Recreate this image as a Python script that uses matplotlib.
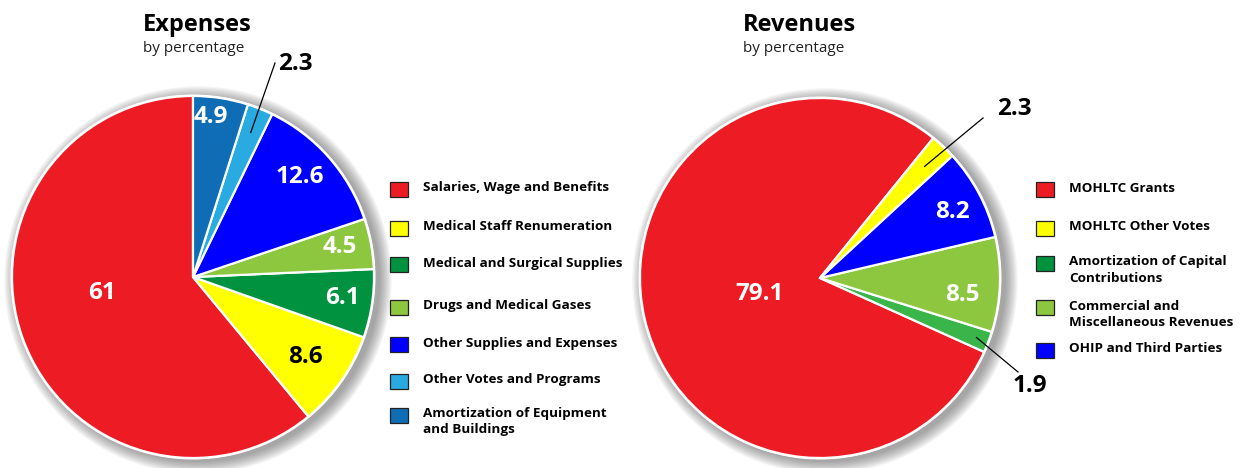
import numpy as np
import matplotlib.pyplot as plt
from matplotlib.patches import Circle, Rectangle

plt.rcParams['font.family'] = ['Open Sans', 'DejaVu Sans']

W, H = 1243, 468

# Expenses
exp_labels = ['Salaries, Wage and Benefits', 'Medical Staff Renumeration',
              'Medical and Surgical Supplies', 'Drugs and Medical Gases',
              'Other Supplies and Expenses', 'Other Votes and Programs',
              'Amortization of Equipment\nand Buildings']
exp_values = [61, 8.6, 6.1, 4.5, 12.6, 2.3, 4.9]
exp_colors = ['#ed1c24', '#ffff00', '#00923f', '#8dc63f', '#0000ff', '#29abe2', '#0f6db5']

# Revenues (pie order)
rev_values = [79.1, 1.9, 8.5, 8.2, 2.3]
rev_colors = ['#ed1c24', '#3ab54a', '#8dc63f', '#0000ff', '#ffff00']
rev_legend = ['MOHLTC Grants', 'MOHLTC Other Votes',
              'Amortization of Capital\nContributions',
              'Commercial and\nMiscellaneous Revenues', 'OHIP and Third Parties']
rev_legend_colors = ['#ed1c24', '#ffff00', '#00923f', '#8dc63f', '#0000ff']

fig = plt.figure(figsize=(W / 100, H / 100), dpi=100)
ax = fig.add_axes([0, 0, 1, 1])

NUM_SIZE = 17.5


def py(y):
    # pixel row -> data y
    return H - y


def mid_angles(values, start):
    v = np.array(values, dtype=float)
    c = np.concatenate([[0], np.cumsum(v)]) / v.sum() * 360
    return start + (c[:-1] + c[1:]) / 2


def draw_pie(values, colors, center, radius, start):
    cx, cy = center
    # soft drop shadow
    for i in range(10):
        ax.add_patch(Circle((cx + 5, cy - 3), radius + 1 + i * 1.3,
                            color='#444444', alpha=0.06, lw=0, zorder=0))
    ax.add_patch(Circle((cx, cy), radius + 1.5, color='white', lw=0, zorder=0.5))
    ax.pie(values, colors=colors, startangle=start, counterclock=True,
           center=center, radius=radius, frame=True,
           wedgeprops=dict(edgecolor='white', linewidth=1.6))


def leader(center, radius, angle, frac, end):
    a = np.deg2rad(angle)
    x0 = center[0] + np.cos(a) * radius * frac
    y0 = center[1] + np.sin(a) * radius * frac
    ax.plot([x0, end[0]], [y0, end[1]], color='black', lw=0.9, zorder=5)


# left pie
c1, r1, s1 = (193, py(277)), 181, 90
draw_pie(exp_values, exp_colors, c1, r1, s1)
m1 = mid_angles(exp_values, s1)

exp_text = [(102, 293, 'white'), (305, 357, 'black'), (342, 298, 'white'),
            (340, 247, 'white'), (300, 177, 'white'), None, (211, 117, 'white')]
for v, t in zip(exp_values, exp_text):
    if t is None:
        continue
    ax.text(t[0], py(t[1]), f'{v:g}', color=t[2], fontsize=NUM_SIZE,
            fontweight='bold', ha='center', va='center', zorder=6)
leader(c1, r1, m1[5], 0.86, (275, py(63)))
ax.text(278, py(64), f'{exp_values[5]:g}', fontsize=NUM_SIZE, fontweight='bold',
        ha='left', va='center')

# right pie
c2, r2, s2 = (820, py(278)), 180, 51
draw_pie(rev_values, rev_colors, c2, r2, s2)
m2 = mid_angles(rev_values, s2)

rev_text = [(760, 294, 'white'), None, (962, 295, 'white'), (952, 212, 'white'), None]
for v, t in zip(rev_values, rev_text):
    if t is None:
        continue
    ax.text(t[0], py(t[1]), f'{v:g}', color=t[2], fontsize=NUM_SIZE,
            fontweight='bold', ha='center', va='center', zorder=6)
leader(c2, r2, m2[4], 0.85, (983, py(118)))
ax.text(997, py(109), f'{rev_values[4]:g}', fontsize=NUM_SIZE, fontweight='bold',
        ha='left', va='center')
leader(c2, r2, m2[1], 0.93, (1018, py(372)))
ax.text(1013, py(386), f'{rev_values[1]:g}', fontsize=NUM_SIZE, fontweight='bold',
        ha='left', va='center')

# titles
for x, title in [(143, 'Expenses'), (743, 'Revenues')]:
    ax.text(x, py(31), title, fontsize=17, fontweight='bold', ha='left',
            va='baseline')
    ax.text(x, py(52), 'by percentage', fontsize=11, ha='left', va='baseline',
            color='#222222')


# legends
def legend(x, rows, labels, colors):
    for y, lab, col in zip(rows, labels, colors):
        ax.add_patch(Rectangle((x, py(y) - 7.5), 18, 15, facecolor=col,
                               edgecolor='#222222', lw=0.9, zorder=5))
        ax.text(x + 33, py(y) + 7.5, lab, fontsize=9.7, fontweight='bold',
                ha='left', va='top', linespacing=1.3)


legend(390, [189, 228, 264, 307, 344, 381, 415], exp_labels, exp_colors)
legend(1036, [189, 228, 263, 307, 350], rev_legend, rev_legend_colors)

ax.set_xlim(0, W)
ax.set_ylim(0, H)
ax.set_aspect('equal')
ax.axis('off')

fig.savefig('out.png', dpi=100)
